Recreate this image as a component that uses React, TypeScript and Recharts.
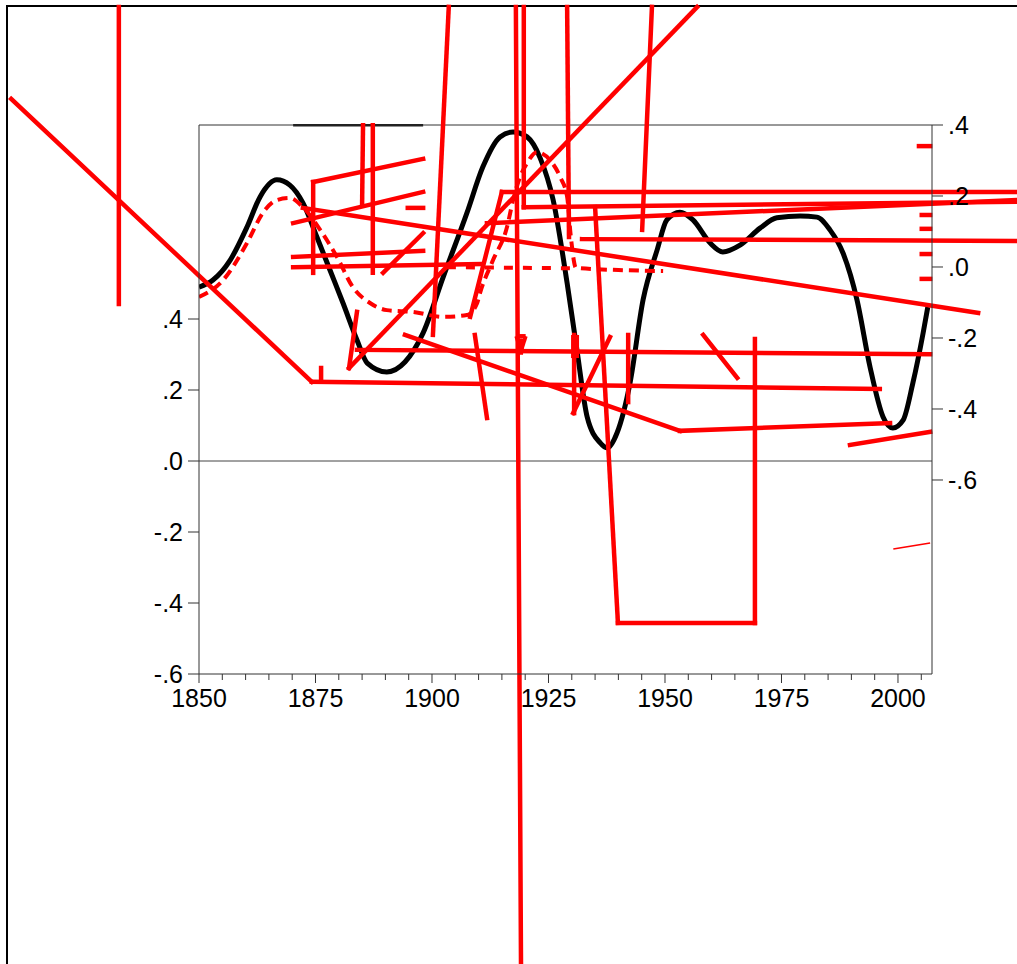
import React from "react";
import { ComposedChart, Line, XAxis, YAxis, ReferenceLine } from "recharts";

// solid black curve (left scale)
const smoothYears = [1850, 1853, 1856.7, 1860.3, 1863.1, 1866.7, 1869.5, 1872.3, 1875.3, 1878.1, 1880.9, 1883.9, 1886.1, 1890.3, 1894.2, 1898.1, 1902.4, 1907.5, 1910.9, 1914.6, 1917.4, 1920.4, 1923.2, 1926.0, 1929.0, 1931.1, 1933.3, 1936.1, 1937.6, 1939.7, 1942.5, 1945.3, 1948.3, 1950.4, 1953.2, 1956.0, 1959.7, 1962.4, 1966.1, 1970.4, 1974.0, 1979.0, 1982.6, 1985.4, 1988.2, 1991.2, 1994.0, 1996.8, 1998.9, 2001.1, 2003.2, 2005.4, 2006.4];
const smoothValues = [0.49, 0.51, 0.566, 0.659, 0.744, 0.792, 0.777, 0.727, 0.631, 0.538, 0.445, 0.341, 0.276, 0.251, 0.279, 0.361, 0.518, 0.699, 0.828, 0.913, 0.927, 0.913, 0.854, 0.735, 0.501, 0.313, 0.124, 0.051, 0.037, 0.079, 0.22, 0.454, 0.594, 0.679, 0.701, 0.679, 0.614, 0.589, 0.608, 0.656, 0.685, 0.69, 0.687, 0.651, 0.586, 0.454, 0.265, 0.124, 0.093, 0.115, 0.22, 0.361, 0.434];

// red dashed curve (left scale)
const dashYears = [1850, 1855.2, 1860.3, 1863.7, 1866.7, 1869.5, 1872.3, 1876.0, 1879.6, 1883.0, 1886.7, 1890.3, 1895.9, 1902.4, 1907.5, 1909.7, 1910.3, 1913.1, 1916.1, 1917.4, 1918.9, 1920.4, 1922.5, 1925.3, 1927.5, 1929.0, 1929.8, 1930.9, 1940.0, 1949.6];
const dashValues = [0.462, 0.51, 0.614, 0.699, 0.735, 0.741, 0.715, 0.651, 0.575, 0.49, 0.445, 0.425, 0.42, 0.406, 0.411, 0.445, 0.473, 0.566, 0.659, 0.735, 0.8, 0.839, 0.87, 0.848, 0.8, 0.744, 0.631, 0.544, 0.538, 0.535];

// stray red strokes, [year, value] on the left scale
const strayPaths: [number, number][][] = [
  [[1809.7, 1.02], [1874.2, 0.223], [1996.1, 0.203]],
  [[1832.8, 1.279], [1832.8, 0.442]],
  [[1898.1, 0.851], [1874.5, 0.786], [1874.5, 0.53]],
  [[1870.2, 0.67], [1898.1, 0.758]],
  [[1894.8, 0.713], [1898.1, 0.713]],
  [[1870.2, 0.575], [1898.1, 0.592]],
  [[1870.2, 0.546], [1910.3, 0.555]],
  [[1885.2, 0.946], [1885.0, 0.721]],
  [[1887.3, 0.946], [1887.3, 0.53]],
  [[1872.3, 0.713], [2017.2, 0.417]],
  [[1889.5, 0.53], [1898.1, 0.642]],
  [[1903.6, 1.279], [1900.2, 0.355]],
  [[1883.9, 0.42], [1882.2, 0.262], [1956.9, 1.279]],
  [[1883.9, 0.313], [2006.9, 0.301]],
  [[1894.2, 0.355], [1953.2, 0.085], [1998.3, 0.107]],
  [[1909.2, 0.355], [1911.8, 0.121]],
  [[1918.0, 1.279], [1919.1, -1.417]],
  [[1919.7, 1.279], [1919.7, 0.715], [2025.5, 0.73]],
  [[1908.2, 0.406], [1915.0, 0.758], [2025.5, 0.758]],
  [[1911.8, 0.67], [2025.5, 0.735]],
  [[1932.2, 0.625], [2025.5, 0.62]],
  [[1929.0, 1.279], [1929.4, 0.631]],
  [[1947.2, 1.279], [1945.1, 0.651]],
  [[1935.0, 0.715], [1939.9, -0.456], [1969.3, -0.456], [1969.3, 0.344]],
  [[1930.3, 0.135], [1938.2, 0.349]],
  [[1930.5, 0.355], [1930.5, 0.135]],
  [[1942.1, 0.355], [1942.1, 0.166]],
  [[1958.2, 0.355], [1965.5, 0.234]],
  [[1989.7, 0.045], [2006.9, 0.082]],
  [[1876.2, 0.262], [1876.2, 0.234]],
  [[2004.5, 0.887], [2006.9, 0.887]],
  [[2005.1, 0.693], [2006.9, 0.693]],
  [[2005.1, 0.654], [2006.9, 0.654]],
  [[2005.1, 0.583], [2006.9, 0.583]],
  [[2005.1, 0.513], [2006.9, 0.513]],
];
// small filled wedge near 1919 and a thick stub near 1931
const strayWedges: [number, number][][] = [
  [[1918.1, 0.352], [1919.1, 0.31], [1920.1, 0.352], [1918.1, 0.352]],
  [[1918.7, 0.345], [1919.1, 0.3], [1919.5, 0.345]],
];
const strayBlocks: [number, number][][] = [[[1930.7, 0.355], [1930.7, 0.29]]];
const strayThin: [number, number][][] = [[[1999.0, -0.248], [2006.9, -0.231]]];
const strayDashed: [number, number][][] = [[[1903.2, 0.546], [1930.0, 0.543]]];
const strayBlack: [number, number][][] = [[[1870.2, 0.946], [1898.1, 0.946]]];

const yearTicks = [1850, 1855, 1860, 1865, 1870, 1875, 1880, 1885, 1890, 1895, 1900, 1905, 1910, 1915, 1920, 1925, 1930, 1935, 1940, 1945, 1950, 1955, 1960, 1965, 1970, 1975, 1980, 1985, 1990, 1995, 2000, 2005];
const leftTicks = [-0.6, -0.4, -0.2, 0, 0.2, 0.4];
const rightTicks = [-0.6, -0.4, -0.2, 0, 0.2, 0.4];

const smoothData = smoothYears.map((year, i) => ({ year, v: smoothValues[i] }));
const dashData = dashYears.map((year, i) => ({ year, v: dashValues[i] }));

const fmt = (v: number) => {
  if (Math.abs(v) < 1e-9) return ".0";
  return v.toFixed(1).replace("0.", ".");
};

const YearTick = (props: any) => {
  const { x, y, payload } = props;
  const major = payload.value % 25 === 0;
  return (
    <g>
      <line x1={x} x2={x} y1={y} y2={y + (major ? 9 : 6)} stroke="#333" strokeWidth={1} />
      {major && (
        <text x={x} y={y + 33} textAnchor="middle" fontSize={25} fill="#000">
          {payload.value}
        </text>
      )}
    </g>
  );
};

function segments(paths: [number, number][][], key: string, style: any) {
  return paths.flatMap((path, i) =>
    path.slice(1).map((p, j) => (
      <ReferenceLine
        key={`${key}${i}-${j}`}
        yAxisId="left"
        segment={[{ x: path[j][0], y: path[j][1] }, { x: p[0], y: p[1] }]}
        ifOverflow="visible"
        {...style}
      />
    ))
  );
}

export default function App() {
  return (
    <div style={{ position: "absolute", left: 0, top: 0, width: 1017, height: 964, background: "#fff", fontFamily: "'Liberation Sans', Arial, sans-serif" }}>
      <div style={{ position: "absolute", left: 6, top: 5, width: 1011, height: 959, borderTop: "2px solid #000", borderLeft: "2px solid #000", boxSizing: "border-box" }} />
      <div style={{ position: "absolute", left: 0, top: 0 }}>
        <ComposedChart width={1017} height={964} margin={{ top: 125, right: 25, bottom: 250, left: 139 }}>
          <XAxis
            dataKey="year"
            type="number"
            domain={[1850, 2007.3]}
            allowDataOverflow
            ticks={yearTicks}
            interval={0}
            height={40}
            tickSize={0}
            tickMargin={0}
            tickLine={false}
            tick={<YearTick />}
            axisLine={{ stroke: "#333" }}
          />
          <YAxis
            yAxisId="left"
            type="number"
            domain={[-0.6, 0.9465]}
            allowDataOverflow
            ticks={leftTicks}
            interval={0}
            width={60}
            tickSize={11}
            tickMargin={5}
            tickFormatter={fmt}
            tick={{ fontSize: 25, fill: "#000" }}
            tickLine={{ stroke: "#333" }}
            axisLine={{ stroke: "#333" }}
          />
          <YAxis
            yAxisId="right"
            orientation="right"
            type="number"
            domain={[-1.1465, 0.4]}
            allowDataOverflow
            ticks={rightTicks}
            interval={0}
            width={60}
            tickSize={11}
            tickMargin={5}
            tickFormatter={fmt}
            tick={{ fontSize: 25, fill: "#000" }}
            tickLine={{ stroke: "#333" }}
            axisLine={{ stroke: "#333" }}
          />
          <ReferenceLine yAxisId="left" y={0} stroke="#444" strokeWidth={1} />
          <ReferenceLine yAxisId="left" y={0.9465} stroke="#333" strokeWidth={1} ifOverflow="visible" />
          <Line
            yAxisId="left"
            data={smoothData}
            dataKey="v"
            type="monotone"
            stroke="#000"
            strokeWidth={5}
            dot={false}
            isAnimationActive={false}
          />
          <Line
            yAxisId="left"
            data={dashData}
            dataKey="v"
            type="monotone"
            stroke="#ff0000"
            strokeWidth={4}
            strokeDasharray="10 6"
            dot={false}
            isAnimationActive={false}
          />
          {segments(strayBlack, "b", { stroke: "#222", strokeWidth: 2.5 })}
          {segments(strayDashed, "d", { stroke: "#ff0000", strokeWidth: 4, strokeDasharray: "9 10" })}
          {segments(strayPaths, "p", { stroke: "#ff0000", strokeWidth: 4.5, strokeLinecap: "square" })}
          {segments(strayWedges, "w", { stroke: "#ff0000", strokeWidth: 4, strokeLinejoin: "miter" })}
          {segments(strayBlocks, "k", { stroke: "#ff0000", strokeWidth: 8 })}
          {segments(strayThin, "t", { stroke: "#ff0000", strokeWidth: 1.5 })}
        </ComposedChart>
      </div>
    </div>
  );
}
